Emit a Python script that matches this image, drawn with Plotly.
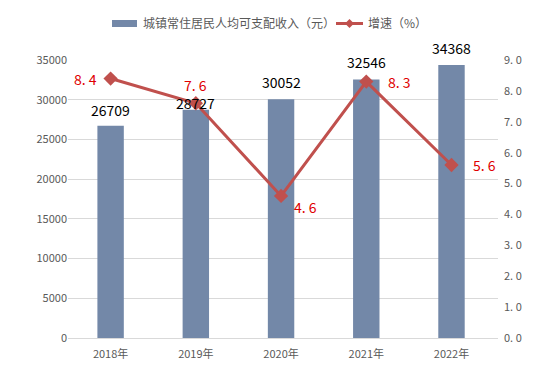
import plotly.graph_objects as go

years = ["2018年", "2019年", "2020年", "2021年", "2022年"]
income = [26709, 28727, 30052, 32546, 34368]
growth = [8.4, 7.6, 4.6, 8.3, 5.6]
left_ticks = [0, 5000, 10000, 15000, 20000, 25000, 30000, 35000]
right_ticks = [0, 1, 2, 3, 4, 5, 6, 7, 8, 9]
bar_name = "城镇常住居民人均可支配收入（元）"
line_name = "增速（%）"

# label offsets in pixels (style)
bar_label_yshift = [16, 7, 17, 17, 17]
growth_label_shift = [(-25, 0), (0, 18), (24, -11), (33, 0), (33, 0)]

FONT = "Noto Sans CJK SC, Liberation Sans, sans-serif"
BAR_COLOR = "#7388A8"
LINE_COLOR = "#C0504D"

# page body margin offset and figure geometry (pixels)
OFF = 8
W, H = 533 - OFF, 389 - OFF
L, R, T, B = 68 - OFF, 35, 60 - OFF, 51
PW, PH = W - L - R, H - T - B


def px(x):
    return (x - OFF - L) / PW


def py(y):
    return (H - B - (y - OFF)) / PH


fig = go.Figure()
fig.add_trace(go.Bar(
    x=years, y=income, name=bar_name,
    marker=dict(color=BAR_COLOR, line=dict(width=0)), width=0.31,
    showlegend=False,
))
fig.add_trace(go.Scatter(
    x=years, y=growth, name=line_name, yaxis="y2", mode="lines+markers",
    line=dict(color=LINE_COLOR, width=3),
    marker=dict(symbol="diamond", size=11, color=LINE_COLOR),
    cliponaxis=False, showlegend=False,
))

annotations = []
for yr, v, ys in zip(years, income, bar_label_yshift):
    annotations.append(dict(x=yr, y=v, xref="x", yref="y", text=str(v), showarrow=False,
                            yshift=ys, font=dict(color="#000000", size=14, family=FONT)))
for yr, v, (xs, ys) in zip(years, growth, growth_label_shift):
    annotations.append(dict(x=yr, y=v, xref="x", yref="y2", text=f"{v:.1f}".replace(".", ". "),
                            showarrow=False, xshift=xs, yshift=ys,
                            font=dict(color="#E00000", size=14, family=FONT)))

# manual legend
annotations.append(dict(x=px(141), y=py(23), xref="paper", yref="paper", text=bar_name,
                        showarrow=False, xanchor="left", yanchor="middle",
                        font=dict(size=12, color="#595959", family=FONT)))
annotations.append(dict(x=px(366), y=py(23), xref="paper", yref="paper", text=line_name,
                        showarrow=False, xanchor="left", yanchor="middle",
                        font=dict(size=12, color="#595959", family=FONT)))
shapes = [
    dict(type="rect", xref="paper", yref="paper", x0=px(112), x1=px(137), y0=py(27), y1=py(20),
         fillcolor=BAR_COLOR, line=dict(width=0)),
    dict(type="line", xref="paper", yref="paper", x0=px(336), x1=px(363), y0=py(23.5), y1=py(23.5),
         line=dict(color=LINE_COLOR, width=3)),
    dict(type="path", xref="paper", yref="paper",
         path=f"M {px(345)} {py(23.5)} L {px(349.5)} {py(19)} L {px(354)} {py(23.5)} L {px(349.5)} {py(28)} Z",
         fillcolor=LINE_COLOR, line=dict(width=0)),
]

fig.update_layout(
    width=W, height=H,
    margin=dict(l=L, r=R, t=T, b=B, autoexpand=False),
    paper_bgcolor="white", plot_bgcolor="white",
    font=dict(family=FONT, color="#595959", size=11),
    showlegend=False,
    annotations=annotations, shapes=shapes,
    xaxis=dict(showgrid=False, showline=True, linecolor="#D9D9D9", linewidth=1,
               ticks="", ticklabelstandoff=6, tickfont=dict(size=11, color="#595959")),
    yaxis=dict(range=[0, 35000], tickvals=left_ticks, ticktext=[str(v) for v in left_ticks],
               showgrid=True, gridcolor="#D9D9D9",
               gridwidth=1, zeroline=False, showline=False, ticks="",
               tickfont=dict(size=11, color="#595959")),
    yaxis2=dict(range=[0, 9], overlaying="y", side="right", tickvals=right_ticks,
                ticktext=[f"{v:.1f}".replace(".", ". ") for v in right_ticks], showgrid=False,
                zeroline=False, showline=False, ticks="", ticklabelstandoff=5,
                tickfont=dict(size=11, color="#595959")),
)
fig.write_html("out.html")
